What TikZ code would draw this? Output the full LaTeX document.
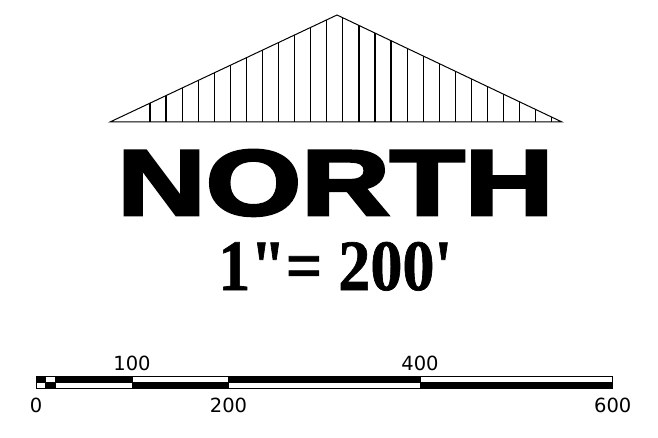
\documentclass[tikz,border=0pt]{standalone}
\usepackage{fontspec}
\setmainfont{Liberation Serif}
\newfontfamily\northfont[FakeBold=3]{Liberation Sans Bold}
\newfontfamily\scalefont[FakeBold=1]{Liberation Serif Bold}
\newfontfamily\labfont{DejaVu Sans}
\begin{document}
\begin{tikzpicture}[x=1pt,y=-1pt,
  outline/.style={line width=1pt,line join=miter},
  hatch/.style={line width=1.2pt},
  cellw/.style={draw=black,fill=white,line width=1pt},
  cellb/.style={draw=black,fill=black,line width=1pt},
  lab/.style={inner sep=0pt,font=\labfont\fontsize{19.5}{20}\selectfont}]
\useasboundingbox (0,0) rectangle (658,438);
% north arrow triangle
\coordinate (tl) at (110,122);
\coordinate (ta) at (337,15);
\coordinate (tr) at (562,122);
\begin{scope}
  \clip (tl) -- (ta) -- (tr) -- cycle;
  \foreach \k in {0,...,25} {
    \draw[hatch] ({150+16.07*\k},0) -- ({150+16.07*\k},130);
  }
\end{scope}
\draw[outline] (tl) -- (ta) -- (tr) -- cycle;
% texts
\node[inner sep=0pt,anchor=base west] (north) at (117,215)
  {\resizebox{436pt}{65pt}{\northfont NORTH}};
\node[inner sep=0pt,anchor=base west] (scale) at (218,290)
  {\resizebox{234pt}{48pt}{\scalefont 1\symbol{34}= 200\symbol{39}}};
% scale bar
\foreach \a/\b/\t in {0/10/b,10/20/w,20/100/b,100/200/w,200/400/b,400/600/w} {
  \if\t b
    \draw[cellb] ({36+\a*0.9612},376.7) rectangle ({36+\b*0.9612},382.3);
    \draw[cellw] ({36+\a*0.9612},382.3) rectangle ({36+\b*0.9612},388.3);
  \else
    \draw[cellw] ({36+\a*0.9612},376.7) rectangle ({36+\b*0.9612},382.3);
    \draw[cellb] ({36+\a*0.9612},382.3) rectangle ({36+\b*0.9612},388.3);
  \fi
}
\node[lab,anchor=base] (l100) at (132,370) {100};
\node[lab,anchor=base] (l400) at (420,370) {400};
\node[lab,anchor=base] (l0) at (36,412) {0};
\node[lab,anchor=base] (l200) at (228.5,412) {200};
\node[lab,anchor=base] (l600) at (612.7,412) {600};
\end{tikzpicture}
\end{document}
